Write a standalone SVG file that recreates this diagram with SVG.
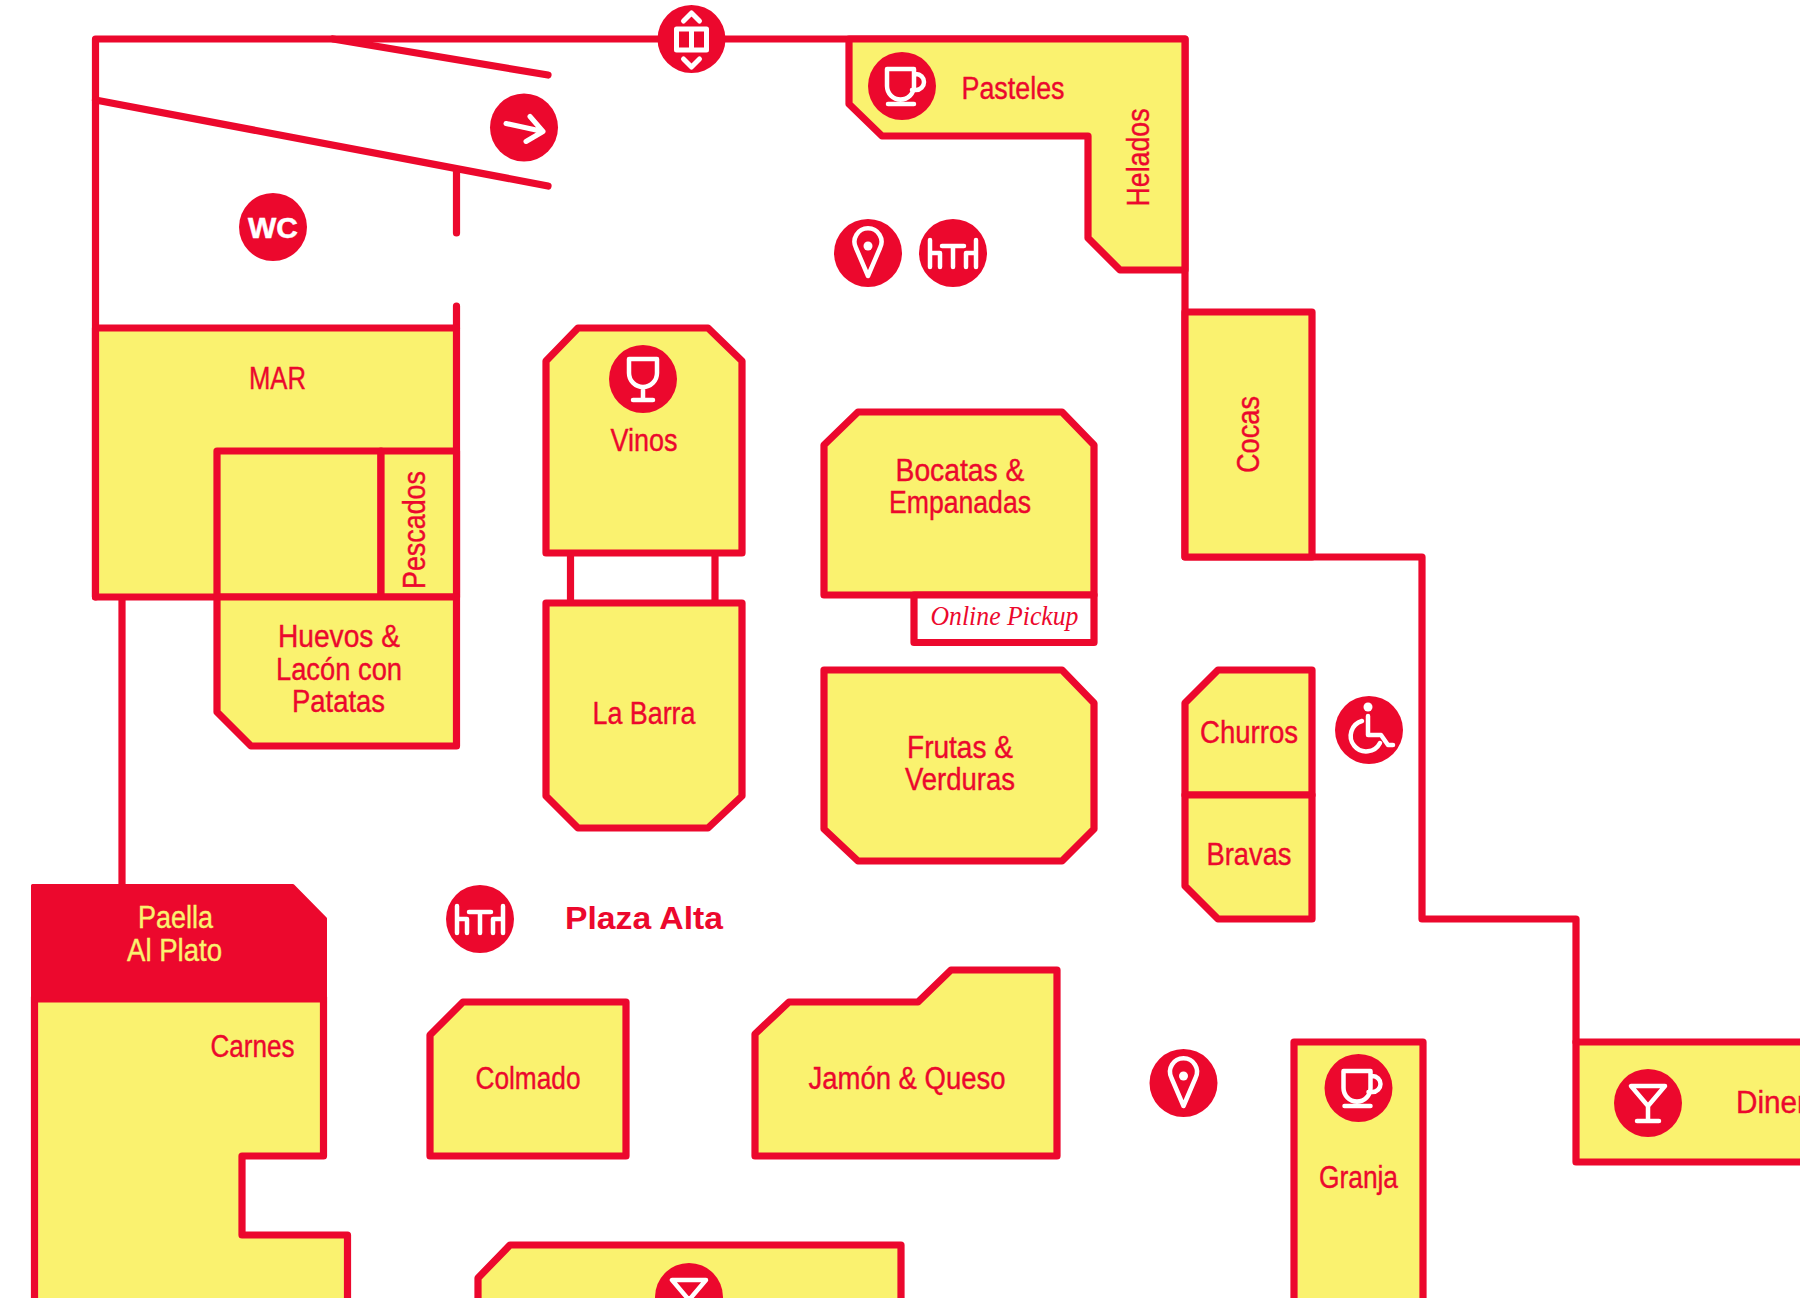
<svg xmlns="http://www.w3.org/2000/svg" xmlns:xlink="http://www.w3.org/1999/xlink" width="1800" height="1298" viewBox="0 0 1800 1298">
<style>
.s{fill:#FAF26F;stroke:#EC082D;stroke-width:7.2;stroke-linejoin:round;stroke-linecap:round}
.w{fill:none;stroke:#EC082D;stroke-width:7.2;stroke-linejoin:round;stroke-linecap:round}
.l{fill:none;stroke:#EC082D;stroke-width:7.2;stroke-linecap:round}
.t{font-family:"Liberation Sans",Arial,sans-serif;font-size:31px;fill:#EC082D;stroke:#EC082D;stroke-width:.4;text-anchor:middle}
.i{fill:none;stroke:#fff;stroke-width:4.5;stroke-linecap:round;stroke-linejoin:round}
.c{fill:#EC082D}
</style>
<defs>
<g id="cup"><circle class="c" r="34"/><path class="i" d="M-15,-17H12V0A13.5,13.5 0 0 1 -15,0ZM12,-12h2a8,8 0 0 1 0,16h-4M-14,18H12"/></g>
<g id="wine"><circle class="c" r="34"/><path class="i" d="M-14,-20H14V-6A14,14 0 0 1 -14,-6ZM0,8V21M-10,21H10"/></g>
<g id="table"><circle class="c" r="34"/><path class="i" d="M-23,-13V14M-23,0H-13V14M23,-13V14M23,0H13V14M-11,-7H11M0,-7V14"/></g>
<g id="pin"><circle class="c" r="34"/><path class="i" d="M0,23L-12,-5A13.5,13.5 0 1 1 12,-5Z"/><circle r="4.500" fill="#fff" cy="-7"/></g>
<g id="martini"><circle class="c" r="34"/><path class="i" d="M-17,-17H17L0,3ZM0,3V18M-11,18H11"/></g>
</defs>

<g id="connectors">
<path class="w" d="M95.500,597V39H1185V557H1422V919H1576V1042"/>
<path class="l" d="M333,39L548,75"/>
<path class="l" d="M95.500,100L548,186"/>
<path class="l" d="M456.500,170V233"/>
<path class="l" d="M456.500,306V328"/>
<path class="l" d="M122,597V885"/>
<path class="l" d="M570.500,553V603"/>
<path class="l" d="M715,553V603"/>
</g>

<g id="mar"><rect class="s" x="95.500" y="328" width="361" height="269"/><text class="t" x="277.500" y="389" textLength="57" lengthAdjust="spacingAndGlyphs">MAR</text></g>
<g id="mar-inner"><rect class="s" x="217" y="451" width="164" height="146"/></g>
<g id="pescados"><rect class="s" x="381" y="451" width="75.500" height="146"/><text class="t" transform="translate(425,530) rotate(-90)" textLength="118" lengthAdjust="spacingAndGlyphs">Pescados</text></g>
<g id="huevos"><path class="s" d="M217,597H456.500V746H251L217,712Z"/>
<text class="t" x="339" y="647" textLength="122" lengthAdjust="spacingAndGlyphs">Huevos &amp;</text>
<text class="t" x="339" y="680" textLength="126" lengthAdjust="spacingAndGlyphs">Lacón con</text>
<text class="t" x="338.500" y="712" textLength="93" lengthAdjust="spacingAndGlyphs">Patatas</text></g>

<g id="vinos"><path class="s" d="M546,361L578,328H708L742,361V553H546Z"/><use xlink:href="#wine" href="#wine" x="643" y="379"/><text class="t" x="644" y="451" textLength="67" lengthAdjust="spacingAndGlyphs">Vinos</text></g>
<g id="la-barra"><path class="s" d="M546,603H742V796L708,828H578L546,796Z"/><text class="t" x="644" y="724" textLength="103" lengthAdjust="spacingAndGlyphs">La Barra</text></g>

<g id="bocatas"><path class="s" d="M824,445L858,412H1062L1094,445V595H824Z"/>
<text class="t" x="960" y="481" textLength="129" lengthAdjust="spacingAndGlyphs">Bocatas &amp;</text>
<text class="t" x="960" y="513" textLength="142" lengthAdjust="spacingAndGlyphs">Empanadas</text></g>
<g id="online-pickup"><rect x="914" y="595" width="180" height="47.500" fill="#fff" stroke="#EC082D" stroke-width="7.2" stroke-linejoin="round"/><text x="1004.500" y="625" font-family="'Liberation Serif',serif" font-style="italic" font-size="27" fill="#EC082D" text-anchor="middle" textLength="148" lengthAdjust="spacingAndGlyphs">Online Pickup</text></g>
<g id="frutas"><path class="s" d="M824,670H1062L1094,703V829L1062,861H858L824,829Z"/>
<text class="t" x="960" y="758" textLength="106" lengthAdjust="spacingAndGlyphs">Frutas &amp;</text>
<text class="t" x="960" y="790" textLength="110" lengthAdjust="spacingAndGlyphs">Verduras</text></g>

<g id="pasteles"><path class="s" d="M849,39H1185V270H1120L1088,238V136H882L849,104Z"/><use xlink:href="#cup" href="#cup" x="902" y="86"/><text class="t" x="1013" y="99" textLength="103" lengthAdjust="spacingAndGlyphs">Pasteles</text><text class="t" transform="translate(1149,157.500) rotate(-90)" textLength="98" lengthAdjust="spacingAndGlyphs">Helados</text></g>
<g id="cocas"><rect class="s" x="1185" y="312" width="127" height="245"/><text class="t" transform="translate(1259,434.500) rotate(-90)" textLength="77" lengthAdjust="spacingAndGlyphs">Cocas</text></g>
<g id="churros"><path class="s" d="M1185,703L1218,670H1312V795H1185Z"/><text class="t" x="1249" y="743" textLength="98" lengthAdjust="spacingAndGlyphs">Churros</text></g>
<g id="bravas"><path class="s" d="M1185,795H1312V919H1218L1185,886Z"/><text class="t" x="1249" y="865" textLength="85" lengthAdjust="spacingAndGlyphs">Bravas</text></g>

<g id="carnes"><path class="s" d="M34.500,997H323.500V1156H242V1235H347.500V1320H34.500Z"/><text class="t" x="252.500" y="1057" textLength="84" lengthAdjust="spacingAndGlyphs">Carnes</text></g>
<g id="paella"><path fill="#EC082D" stroke="#EC082D" stroke-width="3" stroke-linejoin="round" d="M32.500,885.500H293L325.500,918.500V1001H32.500Z"/><text class="t" x="175.500" y="928" textLength="75" lengthAdjust="spacingAndGlyphs" style="fill:#FAF26F;stroke:#FAF26F">Paella</text><text class="t" x="174.500" y="961" textLength="95" lengthAdjust="spacingAndGlyphs" style="fill:#FAF26F;stroke:#FAF26F">Al Plato</text></g>
<g id="colmado"><path class="s" d="M430,1035L463,1002H626V1156H430Z"/><text class="t" x="528" y="1089" textLength="105" lengthAdjust="spacingAndGlyphs">Colmado</text></g>
<g id="jamon"><path class="s" d="M755,1034L789,1002H918L951,970H1057V1156H755Z"/><text class="t" x="907" y="1089" textLength="197" lengthAdjust="spacingAndGlyphs">Jamón &amp; Queso</text></g>
<g id="bottom-stall"><path class="s" d="M478,1278L510,1245H901V1320H478Z"/><use xlink:href="#martini" href="#martini" x="689" y="1297"/></g>
<g id="granja"><rect class="s" x="1294" y="1042" width="129" height="280"/><use xlink:href="#cup" href="#cup" x="1358.500" y="1088"/><text class="t" x="1358.500" y="1188" textLength="79" lengthAdjust="spacingAndGlyphs">Granja</text></g>
<g id="diner"><rect class="s" x="1576" y="1042" width="260" height="120"/><use xlink:href="#martini" href="#martini" x="1648" y="1103"/><text class="t" x="1736" y="1113" style="text-anchor:start" textLength="71" lengthAdjust="spacingAndGlyphs">Diner</text></g>

<g id="elevator"><circle class="c" cx="691.500" cy="39" r="34"/><path class="i" transform="translate(691.500,39)" style="stroke-width:5" d="M-15,-10H15V11H-15ZM0,-10V11M-8,-18L0,-26L8,-18M-8,20L0,28L8,20"/></g>
<g id="exit"><circle class="c" cx="524" cy="127.500" r="34"/><path class="i" transform="translate(524,127.500)" style="stroke-width:5" d="M-18,-4L19,4M6,-11L19,4L2,14"/></g>
<g id="wc"><circle class="c" cx="273" cy="227" r="34"/><text x="273" y="238" font-family="'Liberation Sans',sans-serif" font-weight="bold" font-size="29" fill="#fff" stroke="#fff" stroke-width=".5" text-anchor="middle" textLength="50" lengthAdjust="spacingAndGlyphs">WC</text></g>
<g id="pin-north"><use xlink:href="#pin" href="#pin" x="868" y="253"/></g>
<g id="table-north"><use xlink:href="#table" href="#table" x="953" y="253"/></g>
<g id="accessible"><circle class="c" cx="1369" cy="730" r="34"/><g transform="translate(1369,730)"><circle cx="-1" cy="-23" r="4.500" fill="#fff"/><path class="i" d="M-1,-14V5H12L19,15H24M-7,-9A15.500,15.500 0 1 0 11,13"/></g></g>
<g id="pin-south"><use xlink:href="#pin" href="#pin" x="1183.500" y="1083"/></g>
<g id="table-plaza"><use xlink:href="#table" href="#table" x="480" y="919"/></g>
<g id="plaza-alta"><text x="565" y="929" font-family="'Liberation Sans',sans-serif" font-weight="bold" font-size="32" fill="#EC082D" textLength="158" lengthAdjust="spacingAndGlyphs">Plaza Alta</text></g>
</svg>
